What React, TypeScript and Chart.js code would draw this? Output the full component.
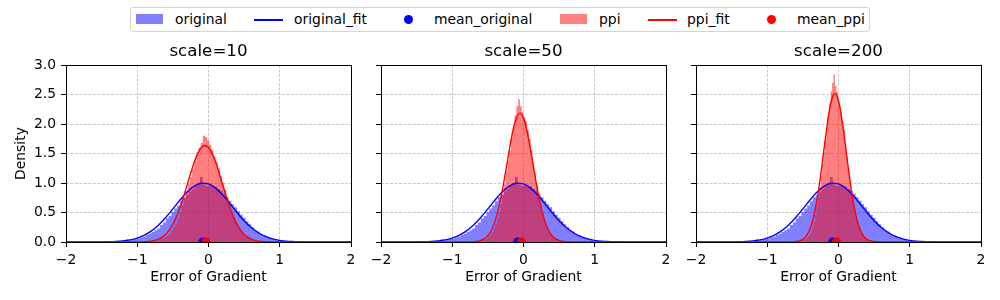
import React, { useEffect, useRef } from 'react';
import { Chart, registerables } from 'chart.js';

Chart.register(...registerables);

// ---------- data ----------
const panelTitles = ['scale=10', 'scale=50', 'scale=200'];
const xTickValues = [-2, -1, 0, 1, 2];
const yTickStep = 0.5;

// original histogram (same in every panel): bin start / bin width / densities
const originalBinStart = -1.4;
const originalBinWidth = 0.04;
const originalHist = [
  0.004, 0.006, 0.005, 0.012, 0.010, 0.018, 0.045, 0.030, 0.040, 0.052,
  0.060, 0.080, 0.095, 0.120, 0.140, 0.170, 0.200, 0.230, 0.290, 0.330,
  0.400, 0.440, 0.510, 0.570, 0.620, 0.690, 0.760, 0.800, 0.860, 0.900,
  0.960, 0.990, 1.100, 0.970, 0.950, 0.960, 0.950, 0.940, 0.900, 0.870,
  0.820, 0.760, 0.700, 0.640, 0.590, 0.520, 0.460, 0.410, 0.350, 0.300,
  0.250, 0.200, 0.180, 0.140, 0.110, 0.085, 0.070, 0.050, 0.040, 0.030,
  0.022, 0.015, 0.012, 0.008, 0.006, 0.004, 0.003, 0.002, 0.001, 0.001,
];

// ppi histograms, one per panel
const ppiBinStart = [-0.8, -0.65, -0.55];
const ppiBinWidth = [0.03, 0.025, 0.02];
const ppiHist10 = [
  0.010, 0.015, 0.020, 0.030, 0.045, 0.060, 0.085, 0.110, 0.150, 0.200,
  0.260, 0.320, 0.400, 0.500, 0.620, 0.740, 0.860, 0.980, 1.100, 1.230,
  1.380, 1.520, 1.600, 1.680, 1.800, 1.780, 1.720, 1.650, 1.560, 1.450,
  1.360, 1.250, 1.120, 1.000, 0.880, 0.760, 0.640, 0.520, 0.420, 0.340,
  0.270, 0.210, 0.160, 0.120, 0.090, 0.065, 0.045, 0.030, 0.020, 0.012,
];
const ppiHist50 = [
  0.008, 0.012, 0.018, 0.028, 0.040, 0.060, 0.085, 0.120, 0.170, 0.230,
  0.300, 0.390, 0.500, 0.640, 0.800, 0.980, 1.200, 1.380, 1.550, 1.780,
  1.950, 2.150, 2.300, 2.420, 2.300, 2.200, 2.120, 2.050, 1.900, 1.750,
  1.560, 1.350, 1.150, 0.960, 0.790, 0.640, 0.510, 0.400, 0.310, 0.230,
  0.170, 0.120, 0.085, 0.060, 0.040, 0.026, 0.016, 0.010,
];
const ppiHist200 = [
  0.010, 0.015, 0.022, 0.035, 0.050, 0.070, 0.100, 0.140, 0.190, 0.260,
  0.350, 0.460, 0.600, 0.750, 0.930, 1.120, 1.320, 1.520, 1.750, 1.950,
  2.150, 2.350, 2.550, 2.700, 2.840, 2.650, 2.550, 2.420, 2.300, 2.200,
  2.050, 1.900, 1.650, 1.450, 1.250, 1.050, 0.880, 0.720, 0.580, 0.460,
  0.360, 0.280, 0.210, 0.160, 0.115, 0.085, 0.060, 0.042, 0.028, 0.018,
];
const ppiHists = [ppiHist10, ppiHist50, ppiHist200];

// fitted curves
const originalFitX = [-2.0, -1.5, -1.4, -1.3, -1.2, -1.1, -1.0, -0.9, -0.8, -0.7, -0.6, -0.5, -0.4, -0.3, -0.2, -0.1, 0, 0.1, 0.2, 0.3, 0.4, 0.5, 0.6, 0.7, 0.8, 0.9, 1.0, 1.1, 1.2, 1.3, 1.4, 2.0];
const originalFitY = [0, 0.002, 0.004, 0.009, 0.019, 0.036, 0.067, 0.116, 0.189, 0.289, 0.416, 0.561, 0.712, 0.848, 0.948, 0.997, 0.985, 0.914, 0.796, 0.652, 0.501, 0.362, 0.246, 0.157, 0.094, 0.053, 0.028, 0.014, 0.007, 0.003, 0.001, 0];

const ppiFitX10 = [-2, -1.0, -0.9, -0.8, -0.7, -0.6, -0.5, -0.45, -0.4, -0.35, -0.3, -0.25, -0.2, -0.15, -0.1, -0.05, 0, 0.05, 0.1, 0.15, 0.2, 0.25, 0.3, 0.35, 0.4, 0.5, 0.6, 0.7, 0.8, 0.9, 2];
const ppiFitY10 = [0, 0.001, 0.004, 0.015, 0.047, 0.129, 0.298, 0.426, 0.584, 0.768, 0.967, 1.168, 1.353, 1.503, 1.601, 1.635, 1.601, 1.503, 1.353, 1.168, 0.967, 0.768, 0.584, 0.426, 0.298, 0.129, 0.047, 0.015, 0.004, 0.001, 0];

const ppiFitX50 = [-2, -0.85, -0.75, -0.65, -0.55, -0.5, -0.45, -0.4, -0.35, -0.3, -0.25, -0.2, -0.15, -0.1, -0.05, 0, 0.05, 0.1, 0.15, 0.2, 0.25, 0.3, 0.35, 0.4, 0.45, 0.55, 0.65, 0.75, 2];
const ppiFitY50 = [0, 0.0002, 0.0015, 0.010, 0.052, 0.106, 0.200, 0.350, 0.569, 0.858, 1.200, 1.558, 1.878, 2.100, 2.180, 2.100, 1.878, 1.558, 1.200, 0.858, 0.569, 0.350, 0.200, 0.106, 0.052, 0.010, 0.0015, 0.0002, 0];

const ppiFitX200 = [-2, -0.75, -0.65, -0.55, -0.5, -0.45, -0.4, -0.35, -0.3, -0.275, -0.25, -0.225, -0.2, -0.175, -0.15, -0.125, -0.1, -0.075, -0.05, -0.025, 0, 0.025, 0.05, 0.075, 0.1, 0.125, 0.15, 0.175, 0.2, 0.25, 0.3, 0.35, 0.4, 0.45, 0.55, 0.65, 2];
const ppiFitY200 = [0, 0.0002, 0.002, 0.0175, 0.045, 0.104, 0.220, 0.420, 0.726, 0.919, 1.136, 1.368, 1.609, 1.844, 2.062, 2.250, 2.394, 2.485, 2.516, 2.485, 2.394, 2.250, 2.062, 1.844, 1.609, 1.368, 1.136, 0.919, 0.726, 0.420, 0.220, 0.104, 0.045, 0.0175, 0.002, 0.0002, 0];

const ppiFitXs = [ppiFitX10, ppiFitX50, ppiFitX200];
const ppiFitYs = [ppiFitY10, ppiFitY50, ppiFitY200];

const meanOriginal = [-0.08, -0.08, -0.08];
const meanPpi = [-0.035, -0.03, -0.03];

// ---------- styling ----------
const FONT = 'DejaVu Sans';
const BLUE_FILL = 'rgba(0,0,255,0.5)';
const RED_FILL = 'rgba(255,0,0,0.5)';
const canvasLefts = [0, 315, 630];
const CANVAS_W = 361;
const CANVAS_H = 264;
const CANVAS_TOP = 36;

Chart.defaults.font.family = FONT;
Chart.defaults.font.size = 13.9;
Chart.defaults.color = '#000';

function histPoints(start: number, width: number, values: number[]) {
  const pts: { x: number; y: number }[] = [];
  values.forEach((v, i) => {
    pts.push({ x: start + i * width, y: v });
    pts.push({ x: start + (i + 1) * width, y: v });
  });
  return pts;
}

function curvePoints(xs: number[], ys: number[]) {
  return xs.map((x, i) => ({ x, y: ys[i] }));
}

const framePlugin = {
  id: 'frame',
  afterDatasetsDraw(chart: any) {
    const { ctx, chartArea } = chart;
    const l = Math.round(chartArea.left) + 0.5;
    const t = Math.round(chartArea.top) + 0.5;
    const r = Math.round(chartArea.right) + 0.5;
    const b = Math.round(chartArea.bottom) + 0.5;
    ctx.save();
    ctx.strokeStyle = '#000';
    ctx.lineWidth = 1;
    ctx.strokeRect(l, t, r - l, b - t);
    ctx.restore();
  },
};

function fmtX(v: number) {
  return v < 0 ? '\u2212' + Math.abs(v) : String(v);
}

function makeConfig(i: number): any {
  return {
    type: 'line',
    data: {
      datasets: [
        {
          label: 'mean_ppi',
          data: [{ x: meanPpi[i], y: 0 }],
          showLine: false,
          pointRadius: 4.5,
          pointBackgroundColor: 'red',
          pointBorderWidth: 0,
          clip: 0,
          order: 0,
        },
        {
          label: 'mean_original',
          data: [{ x: meanOriginal[i], y: 0 }],
          showLine: false,
          pointRadius: 4.5,
          pointBackgroundColor: 'blue',
          pointBorderWidth: 0,
          clip: 0,
          order: 1,
        },
        {
          label: 'ppi_fit',
          data: curvePoints(ppiFitXs[i], ppiFitYs[i]),
          borderColor: 'red',
          borderWidth: 1.4,
          pointRadius: 0,
          fill: false,
          cubicInterpolationMode: 'monotone',
          order: 2,
        },
        {
          label: 'original_fit',
          data: curvePoints(originalFitX, originalFitY),
          borderColor: 'blue',
          borderWidth: 1.4,
          pointRadius: 0,
          fill: false,
          cubicInterpolationMode: 'monotone',
          order: 3,
        },
        {
          label: 'ppi',
          data: histPoints(ppiBinStart[i], ppiBinWidth[i], ppiHists[i]),
          borderColor: 'transparent',
          borderWidth: 0,
          backgroundColor: RED_FILL,
          fill: 'origin',
          pointRadius: 0,
          tension: 0,
          order: 4,
        },
        {
          label: 'original',
          data: histPoints(originalBinStart, originalBinWidth, originalHist),
          borderColor: 'transparent',
          borderWidth: 0,
          backgroundColor: BLUE_FILL,
          fill: 'origin',
          pointRadius: 0,
          tension: 0,
          order: 5,
        },
      ],
    },
    options: {
      animation: false,
      responsive: false,
      events: [],
      layout: { padding: { left: 0, right: 10, top: 0, bottom: 0 } },
      plugins: {
        legend: { display: false },
        tooltip: { enabled: false },
        title: {
          display: true,
          text: panelTitles[i],
          fullSize: false,
          color: '#000',
          font: { family: FONT, size: 16.7, weight: 'normal' },
          padding: { top: 6, bottom: 3 },
        },
      },
      scales: {
        x: {
          type: 'linear',
          min: -2,
          max: 2,
          afterBuildTicks: (s: any) => {
            s.ticks = xTickValues.map((v) => ({ value: v }));
          },
          ticks: {
            callback: (v: number) => fmtX(v),
            color: '#000',
            font: { family: FONT, size: 13.9 },
            padding: 5,
            maxRotation: 0,
            autoSkip: false,
          },
          grid: {
            color: '#c8c8c8',
            lineWidth: 1,
            tickColor: '#000',
            tickLength: 5,
            tickWidth: 1,
          },
          border: { display: false, dash: [3, 1.5] },
          title: {
            display: true,
            text: 'Error of Gradient',
            color: '#000',
            font: { family: FONT, size: 13.9 },
            padding: { top: 0, bottom: 14 },
          },
          afterFit: (s: any) => {
            s.height = 58;
          },
        },
        y: {
          type: 'linear',
          min: 0,
          max: 3,
          ticks: {
            stepSize: yTickStep,
            callback: (v: number) => (i === 0 ? v.toFixed(1) : ''),
            color: '#000',
            font: { family: FONT, size: 13.9 },
            padding: 5,
          },
          grid: {
            color: '#c8c8c8',
            lineWidth: 1,
            tickColor: '#000',
            tickLength: 5,
            tickWidth: 1,
          },
          border: { display: false, dash: [3, 1.5] },
          title: {
            display: i === 0,
            text: 'Density',
            color: '#000',
            font: { family: FONT, size: 13.9 },
            padding: { top: 13, bottom: 0 },
          },
          afterFit: (s: any) => {
            s.width = 66;
          },
        },
      },
    },
    plugins: [framePlugin],
  };
}

// ---------- legend (HTML) ----------
const legendItems = [
  { label: 'original', kind: 'patch', color: BLUE_FILL, markerLeft: 136, textLeft: 175 },
  { label: 'original_fit', kind: 'line', color: '#0000ff', markerLeft: 254, textLeft: 294 },
  { label: 'mean_original', kind: 'dot', color: '#0000ff', markerLeft: 403.5, textLeft: 434 },
  { label: 'ppi', kind: 'patch', color: RED_FILL, markerLeft: 560, textLeft: 599 },
  { label: 'ppi_fit', kind: 'line', color: '#ff0000', markerLeft: 648, textLeft: 687 },
  { label: 'mean_ppi', kind: 'dot', color: '#ff0000', markerLeft: 767, textLeft: 797 },
];

function LegendMarker({ kind, color, left }: { kind: string; color: string; left: number }) {
  if (kind === 'patch') {
    return <div style={{ position: 'absolute', left, top: 14, width: 27, height: 10, background: color }} />;
  }
  if (kind === 'line') {
    return <div style={{ position: 'absolute', left, top: 19, width: 29, height: 1.5, background: color }} />;
  }
  return <div style={{ position: 'absolute', left, top: 15, width: 9, height: 9, borderRadius: '50%', background: color }} />;
}

export default function App() {
  const ref0 = useRef<HTMLCanvasElement | null>(null);
  const ref1 = useRef<HTMLCanvasElement | null>(null);
  const ref2 = useRef<HTMLCanvasElement | null>(null);
  const refs = [ref0, ref1, ref2];

  useEffect(() => {
    const charts = refs.map((r, i) => new Chart(r.current as HTMLCanvasElement, makeConfig(i)));
    return () => charts.forEach((c) => c.destroy());
  }, []);

  return (
    <div style={{ position: 'absolute', left: 0, top: 0, width: 1000, height: 300, background: '#fff', fontFamily: FONT, overflow: 'hidden' }}>
      <div
        style={{
          position: 'absolute',
          left: 130,
          top: 7,
          width: 738,
          height: 23,
          border: '1px solid #d4d4d4',
          borderRadius: 3,
          background: 'rgba(255,255,255,0.8)',
        }}
      />
      {legendItems.map((it) => (
        <React.Fragment key={it.label}>
          <LegendMarker kind={it.kind} color={it.color} left={it.markerLeft} />
          <div
            style={{
              position: 'absolute',
              left: it.textLeft,
              top: 10,
              height: 19,
              lineHeight: '19px',
              fontSize: 13.9,
              color: '#000',
              whiteSpace: 'nowrap',
            }}
          >
            {it.label}
          </div>
        </React.Fragment>
      ))}
      {refs.map((r, i) => (
        <canvas
          key={i}
          ref={r}
          width={CANVAS_W}
          height={CANVAS_H}
          style={{ position: 'absolute', left: canvasLefts[i], top: CANVAS_TOP, width: CANVAS_W, height: CANVAS_H }}
        />
      ))}
    </div>
  );
}
